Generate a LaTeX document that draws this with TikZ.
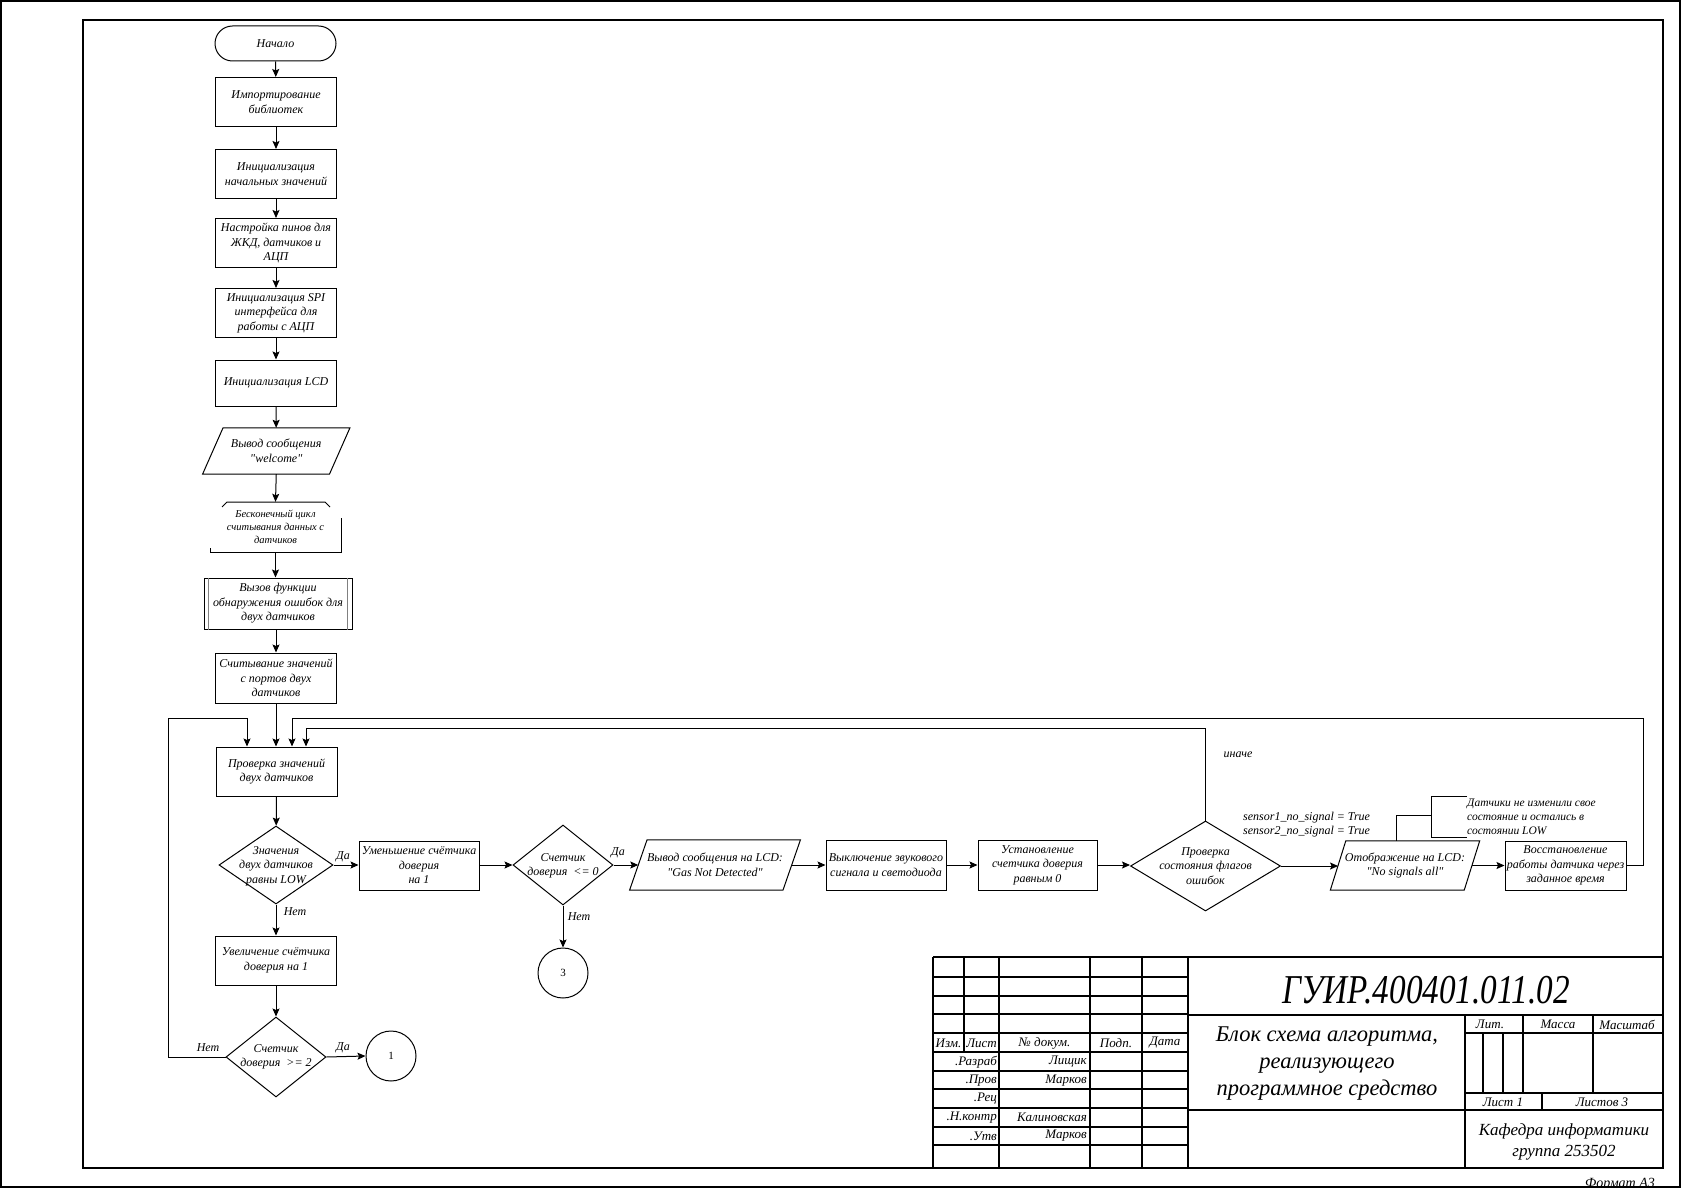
\documentclass[tikz,border=0pt]{standalone}
\usepackage{fontspec}
\setmainfont{Liberation Serif}
\usepackage{graphicx}
\usetikzlibrary{arrows.meta,calc,shapes.geometric}
\newcommand{\qd}{\textquotedbl}
\begin{document}
\begin{tikzpicture}[x=1pt,y=-1pt,line join=miter,
  base/.style={font=\fontsize{12}{14.5}\selectfont\itshape,align=center,inner sep=1pt},
  box/.style={base,draw,line width=1pt,minimum width=121pt,minimum height=49pt},
  term/.style={base,draw,line width=1pt,rounded corners=17.5pt,minimum width=121pt,minimum height=35pt},
  iobox/.style={base,minimum width=#1,minimum height=49pt},
  dia/.style 2 args={draw,line width=1pt,diamond,minimum width=#1,minimum height=#2,inner sep=0pt},
  conn/.style={line width=1pt,-{Stealth[length=8pt,width=7pt,inset=1.5pt]}},
  wire/.style={line width=1pt},
  lbl/.style={font=\fontsize{12}{14}\selectfont\itshape,inner sep=1pt},
  tb/.style={line width=1.4pt},
  tbt/.style={font=\fontsize{13}{15}\selectfont\itshape,inner sep=0pt},
  conn_pt/.style={draw,circle,line width=1pt,minimum size=50pt,inner sep=0pt,font=\fontsize{11}{13}\selectfont}
]
\useasboundingbox (0,0) rectangle (1686,1190);
\fill[white] (0,0) rectangle (1686,1190);

% sheet frames
\draw[line width=1.6pt] (1,1) rectangle (1680,1187);
\draw[line width=1.6pt] (83,20) rectangle (1663,1168);

% ---------- main column ----------
\node[term] (start) at (275.5,43.5) {Начало};
\node[box] (imp)  at (276,102)  {Импортирование\\библиотек};
\node[box] (init) at (276,174)  {Инициализация\\начальных значений};
\node[box] (pins) at (276,243)  {Настройка пинов для\\ЖКД, датчиков и\\АЦП};
\node[box] (spi)  at (276,313)  {Инициализация SPI\\интерфейса для\\работы с АЦП};
\node[box,minimum height=46pt] (lcd) at (276,383) {Инициализация LCD};

\node[iobox=126.5pt,minimum height=46pt] (wel) at (276.25,451) {Вывод сообщения\\\qd welcome\qd};
\draw[wire] ([xshift=-10.25pt]wel.south west) -- ([xshift=-10.25pt]wel.south east)
  -- ([xshift=10.25pt]wel.north east) -- ([xshift=10.25pt]wel.north west) -- cycle;

% loop limit
\node[base,font=\fontsize{10.5}{13}\selectfont\itshape,minimum width=131pt,minimum height=50pt] (loop) at (275.5,527) {Бесконечный цикл\\считывания данных с\\датчиков};
\draw[wire] (222,507) -- (227,502) -- (325,502) -- (330,507);
\draw[wire] (341,518) -- (341,552) -- (210,552) -- (210,548);

% predefined process
\node[box,minimum width=148pt,minimum height=51pt] (call) at (278,603.5) {Вызов функции\\обнаружения ошибок для\\двух датчиков};
\draw[wire,gray] ([xshift=5pt]call.north west) -- ([xshift=5pt]call.south west);
\draw[wire,gray] ([xshift=-5pt]call.north east) -- ([xshift=-5pt]call.south east);

\node[box,minimum height=50pt] (read)  at (276,678)   {Считывание значений\\с портов двух\\датчиков};
\node[box] (check) at (276.5,771.5) {Проверка значений\\двух датчиков};

\node[dia={114pt}{78pt}] (d1) at (276,865) {};
\node[base] (d1t) at (276,866) {Значения\\двух датчиков\\равны LOW};
\node[box] (inc) at (276,960.5) {Увеличение счётчика\\доверия на 1};
\node[dia={100pt}{80pt}] (d4) at (276,1057) {};
\node[base] (d4t) at (276,1057) {Счетчик\\доверия~~>= 2};
\node[conn_pt] (c1) at (391,1056) {1};

% ---------- main row ----------
\node[box,minimum width=120pt] (dec) at (419,865.5) {Уменьшение счётчика\\доверия\\на 1};
\node[dia={100pt}{80pt}] (d2) at (563,865) {};
\node[base] (d2t) at (563,866) {Счетчик\\доверия~~<= 0};
\node[conn_pt] (c3) at (563,973) {3};

\node[iobox=153pt,minimum height=50pt] (out2) at (715,865) {Вывод сообщения на LCD:\\\qd Gas Not Detected\qd};
\draw[wire] ([xshift=-8.75pt]out2.south west) -- ([xshift=-8.75pt]out2.south east)
  -- ([xshift=8.75pt]out2.north east) -- ([xshift=8.75pt]out2.north west) -- cycle;

\node[box,minimum width=120pt,minimum height=50pt] (off)  at (886,865)    {Выключение звукового\\сигнала и светодиода};
\node[box,minimum width=119pt,minimum height=50pt] (set0) at (1037.5,865) {Установление\\счетчика доверия\\равным 0};

\node[dia={150pt}{90pt}] (d3) at (1205.5,866) {};
\node[base] (d3t) at (1205.5,866) {Проверка\\состояния флагов\\ошибок};

\node[iobox=133.5pt,minimum height=49pt] (out3) at (1405,865.5) {Отображение на LCD:\\\qd No signals all\qd};
\draw[wire] ([xshift=-7.75pt]out3.south west) -- ([xshift=-7.75pt]out3.south east)
  -- ([xshift=7.75pt]out3.north east) -- ([xshift=7.75pt]out3.north west) -- cycle;

\node[box] (rest) at (1565.5,865.5) {Восстановление\\работы датчика через\\заданное время};

% comment on the LCD output
\node[base,align=left,anchor=west,font=\fontsize{11.5}{14}\selectfont\itshape] (note) at (1466,817) {Датчики не изменили свое\\состояние и остались в\\состоянии LOW};
\coordinate (nb) at (1431,815);
\draw[wire] (out3.north -| 1396,0) -- (1396,815) -- (nb);
\draw[wire] (1467,796) -- (1431,796) -- (1431,837) -- (1467,837);

% ---------- connectors ----------
\draw[conn] (start) -- (imp);
\draw[conn] (imp) -- (init);
\draw[conn] (init) -- (pins);
\draw[conn] (pins) -- (spi);
\draw[conn] (spi) -- (lcd);
\draw[conn] (lcd) -- (wel);
\draw[conn] (wel.south) -- (loop.north);
\draw[conn] (loop.south) -- (call.north -| loop.south);
\draw[conn] (call.south -| read.north) -- (read.north);
\draw[conn] (read) -- (read.south |- check.north);
\draw[conn] (check) -- (d1);
\draw[conn] (d1) -- (inc);
\draw[conn] (inc) -- (d4);
\draw[conn] (d4.east) -- (c1.west);
\draw[conn] (d1.east) -- (d1.east -| dec.west);
\draw[conn] (dec.east |- d2.west) -- (d2.west);
\draw[conn] (d2.east) -- (d2.east -| out2.west);
\draw[conn] (d2.south) -- (c3.north);
\draw[conn] (out2.east) -- (out2.east -| off.west);
\draw[conn] (off.east) -- (set0.west);
\draw[conn] (set0.east) -- (set0.east -| d3.west);
\draw[conn] (d3.east) -- (d3.east -| out3.west);
\draw[conn] (out3.east) -- (out3.east -| rest.west);

\coordinate (lt) at (168,718);
\coordinate (la) at (247,718);
\draw[conn] (d4.west) -- (d4.west -| lt) -- (lt) -- (la) -- (la |- check.north);

\coordinate (rt) at (1643,718);
\coordinate (ra) at (292,718);
\draw[conn] (rest.east) -- (rest.east -| rt) -- (rt) -- (ra) -- (ra |- check.north);

\coordinate (et) at (1205.5,728);
\coordinate (ea) at (306,728);
\draw[conn] (d3.north) -- (et) -- (ea) -- (ea |- check.north);

% branch labels
\node[lbl] (y1) at (343,857) {Да};
\node[lbl] (n1) at (295,912) {Нет};
\node[lbl] (y2) at (618,853) {Да};
\node[lbl] (n2) at (579,917) {Нет};
\node[lbl] (y4) at (343,1048) {Да};
\node[lbl] (n4) at (208,1048) {Нет};
\node[lbl] (els) at (1238,755) {иначе};
\node[lbl,anchor=west,align=left,font=\fontsize{12}{14}\selectfont\itshape] (cnd) at (1242,825) {sensor1\_no\_signal = True\\sensor2\_no\_signal = True};

% ---------- title block ----------
\foreach \yy in {957,977,996,1014,1033,1052,1071,1089,1108,1127,1145}
  \draw[tb] (933,\yy) -- (1188,\yy);
\draw[tb] (933,957) -- (933,1168);
\draw[tb] (964,957) -- (964,1052);
\foreach \xx in {999,1090,1142,1188}
  \draw[tb] (\xx,957) -- (\xx,1168);
\draw[tb] (1188,957) -- (1663,957);
\draw[tb] (1188,1015) -- (1663,1015);
\draw[tb] (1188,1110) -- (1663,1110);
\draw[tb] (1465,1015) -- (1465,1168);
\draw[tb] (1465,1033) -- (1663,1033);
\draw[tb] (1465,1093) -- (1663,1093);
\draw[tb] (1523,1015) -- (1523,1093);
\draw[tb] (1593,1015) -- (1593,1093);
\draw[tb] (1483,1033) -- (1483,1093);
\draw[tb] (1503,1033) -- (1503,1093);
\draw[tb] (1542,1093) -- (1542,1110);

\node[tbt] (h1) at (948.5,1043) {Изм.};
\node[tbt] (h2) at (981.5,1043) {Лист};
\node[tbt] (h3) at (1044.5,1043) {№ докум.};
\node[tbt] (h4) at (1116,1043) {Подп.};
\node[tbt] (h5) at (1165,1043) {Дата};
\node[tbt,anchor=east] (r1) at (997,1062) {.Разраб};
\node[tbt,anchor=east] (r2) at (997,1080.5) {.Пров};
\node[tbt,anchor=east] (r3) at (997,1099) {.Рец};
\node[tbt,anchor=east] (r4) at (997,1117.5) {.Н.контр};
\node[tbt,anchor=east] (r5) at (997,1136) {.Утв};
\node[tbt,anchor=east] (s1) at (1087,1062) {Лищик};
\node[tbt,anchor=east] (s2) at (1087,1080.5) {Марков};
\node[tbt,anchor=east] (s4) at (1087,1117.5) {Калиновская};
\node[tbt,anchor=east] (s5) at (1087,1136) {Марков};

\node[inner sep=0pt,font=\fontsize{41}{46}\selectfont\itshape] (code) at (1426,990) {\scalebox{0.81}[1]{ГУИР.400401.011.02}};
\node[align=center,inner sep=0pt,font=\fontsize{22.5}{27}\selectfont\itshape] (ttl) at (1327,1064) {Блок схема алгоритма,\\реализующего\\программное средство};
\node[tbt] (lit) at (1490,1024.5) {Лит.};
\node[tbt] (mas) at (1558,1024.5) {Масса};
\node[tbt] (msh) at (1627,1024.5) {Масштаб};
\node[tbt] (sh1) at (1503,1102) {Лист 1};
\node[tbt] (shn) at (1602,1102) {Листов 3};
\node[align=center,inner sep=0pt,font=\fontsize{17}{21}\selectfont\itshape] (dep) at (1564,1142) {Кафедра информатики\\группа 253502};
\begin{scope}
  \clip (1500,1170) rectangle (1679,1186);
  \node[inner sep=0pt,font=\fontsize{14}{16}\selectfont\itshape] (fmt) at (1620,1184) {Формат А3};
\end{scope}
\end{tikzpicture}
\end{document}
